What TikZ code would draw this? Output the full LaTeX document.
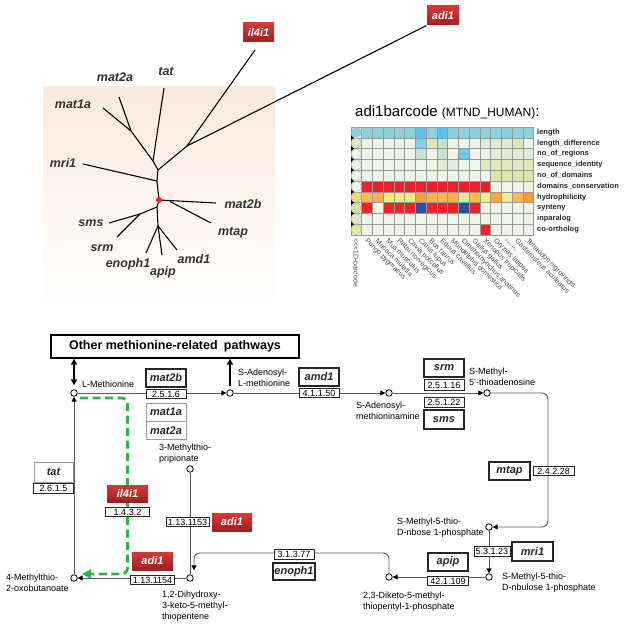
\documentclass[tikz,border=0pt]{standalone}
\usepackage{fontspec}
\setmainfont{Liberation Sans}
\usetikzlibrary{arrows.meta,backgrounds,positioning}

\definecolor{peachtop}{HTML}{FCEADC}
\definecolor{peachmid}{HTML}{F8D3B4}
\definecolor{dotred}{HTML}{E8262B}
\definecolor{leafgray}{HTML}{333333}
\definecolor{redtop}{HTML}{D33A37}
\definecolor{redbot}{HTML}{A21E23}
\definecolor{pathgreen}{HTML}{2DB34A}
\definecolor{linegray}{HTML}{5A5A5A}
% barcode colours
\definecolor{bp}{HTML}{EEF4E8}
\definecolor{bcb}{HTML}{8FD0DF}
\definecolor{bcB}{HTML}{5CC3EC}
\definecolor{lbl}{HTML}{84CEE9}
\definecolor{tl}{HTML}{C2E2D4}
\definecolor{yg}{HTML}{DCE8B6}
\definecolor{gp}{HTML}{E1ECD8}
\definecolor{bl}{HTML}{6BC7EA}
\definecolor{ygl}{HTML}{DFE9C0}
\definecolor{ygd}{HTML}{DCE6A8}
\definecolor{rd}{HTML}{E8232A}
\definecolor{db}{HTML}{2F4EA1}
\definecolor{hoa}{HTML}{FBBA50}
\definecolor{hob}{HTML}{F9B249}
\definecolor{hya}{HTML}{F7EC7F}
\definecolor{hyb}{HTML}{F6EA84}
\definecolor{hoc}{HTML}{F8A03E}
\definecolor{hod}{HTML}{FBB44A}
\definecolor{hoe}{HTML}{FBB94D}
\definecolor{hof}{HTML}{F9AE48}
\definecolor{hyc}{HTML}{E4E79E}
\definecolor{hog}{HTML}{FDBB4C}
\definecolor{hyd}{HTML}{F2EC8D}
\definecolor{hoh}{HTML}{F7A343}
\definecolor{hye}{HTML}{ECEB9D}
\definecolor{hoi}{HTML}{FCB94F}
\definecolor{hoj}{HTML}{F69A3A}
\definecolor{cb}{HTML}{DDE9BD}
\definecolor{cg}{HTML}{F2DD6C}
\definecolor{ch}{HTML}{D7E39C}
\definecolor{ci}{HTML}{DDEBD2}
\definecolor{cj}{HTML}{E5E89A}

\newcommand{\genefont}{\fontsize{11}{12}\selectfont\bfseries\itshape}
\newcommand{\treefont}{\fontsize{12.5}{13}\selectfont\bfseries\itshape}
\newcommand{\ecfont}{\fontsize{9}{10}\selectfont}
\newcommand{\metfont}{\fontsize{9}{11}\selectfont}
\newcommand{\pwfont}{\fontsize{12.5}{14}\selectfont\bfseries}
\newcommand{\rowfont}{\fontsize{7.5}{8}\selectfont\bfseries}
\newcommand{\specfont}{\fontsize{7}{8}\selectfont}

\tikzset{
  branch/.style={line width=1.1pt,black},
  leaf/.style={font=\treefont,text=leafgray,inner sep=0pt},
  gene/.style={draw=black!85,line width=1.2pt,fill=white,font=\genefont,text=black!85,
    inner sep=0pt,minimum width=40pt,minimum height=18pt},
  altgene/.style={gene,draw=black!40,line width=0.6pt},
  redgene/.style={gene,draw=none,top color=redtop,bottom color=redbot,text=white},
  ec/.style={draw=black!85,line width=0.9pt,fill=white,font=\ecfont,inner sep=0pt,
    minimum width=40pt,minimum height=9.5pt,text height=6.4pt,text depth=0pt},
  met/.style={circle,draw,fill=white,line width=0.8pt,inner sep=0pt,minimum size=6.5pt},
  metlabel/.style={font=\metfont,align=left,inner sep=0pt,anchor=north west},
  rxn/.style={draw=linegray,line width=0.9pt,-{Triangle[length=5pt,width=5pt,color=black]}},
  plainrxn/.style={draw=linegray,line width=0.9pt},
  bigarrow/.style={line width=1.6pt,black},
  greenpath/.style={pathgreen,line width=2.8pt,dash pattern=on 8pt off 4.5pt,
    -{Triangle[length=9pt,width=9pt]}},
  gridline/.style={draw=black!40,line width=0.35pt},
  rowlabel/.style={font=\rowfont,text=black!85,anchor=west,inner sep=0pt},
  species/.style={font=\specfont,text=black!70,anchor=west,inner sep=0pt,rotate=-45}
}

\begin{document}
\begin{tikzpicture}[x=1pt,y=-1pt]
\useasboundingbox (0,0) rectangle (629,628);

% gene tree
\shade[top color=peachtop,middle color=peachmid,bottom color=white] (43,87) rectangle (275,307);
\coordinate (root) at (159,200);
\coordinate (j1) at (157,181);
\coordinate (j2) at (158,170);
\coordinate (j3) at (153,161);
\coordinate (j4) at (131,131);
\coordinate (j5) at (187,146);
\coordinate (j6) at (157,207);
\coordinate (j7) at (140,214);
\coordinate (j8) at (158,226);
\coordinate (j9) at (170,201.5);
\coordinate (e-tat) at (164,88);
\coordinate (e-mat1a) at (103,108);
\coordinate (e-mat2a) at (119,97);
\coordinate (e-mri1) at (83,164);
\coordinate (e-il4i1) at (255,50);
\coordinate (e-mat2b) at (216,203);
\coordinate (e-mtap) at (211,223);
\coordinate (e-sms) at (109,223);
\coordinate (e-srm) at (117,237);
\coordinate (e-enoph1) at (146,253);
\coordinate (e-apip) at (162,255);
\coordinate (e-amd1) at (177,250);

\node[redgene,minimum width=31pt,minimum height=19pt] (t-il4i1) at (258.5,32.5) {il4i1};
\node[redgene,minimum width=32pt,minimum height=19pt] (t-adi1) at (443,15.5) {adi1};

\draw[branch] (root) -- (j1) -- (j2) -- (j3) -- (e-tat);
\draw[branch] (j3) -- (j4) -- (e-mat1a);
\draw[branch] (j4) -- (e-mat2a);
\draw[branch] (j1) -- (e-mri1);
\draw[branch] (j2) -- (j5) -- (e-il4i1);
\draw[branch] (j5) -- (t-adi1.south west);
\draw[branch] (root) -- (e-mat2b);
\draw[branch] (j9) -- (e-mtap);
\draw[branch] (root) -- (j6) -- (j8) -- (e-apip);
\draw[branch] (j6) -- (j7) -- (e-sms);
\draw[branch] (j7) -- (e-srm);
\draw[branch] (j8) -- (e-enoph1);
\draw[branch] (j8) -- (e-amd1);
\fill[dotred] (root) circle (3);

\node[leaf] (l-mat2a) at (115,77) {mat2a};
\node[leaf] (l-tat) at (166,71) {tat};
\node[leaf] (l-mat1a) at (73,104) {mat1a};
\node[leaf] (l-mri1) at (63,163) {mri1};
\node[leaf] (l-mat2b) at (243,204) {mat2b};
\node[leaf] (l-mtap) at (233,233) {mtap};
\node[leaf] (l-sms) at (91,223) {sms};
\node[leaf] (l-srm) at (102,248) {srm};
\node[leaf] (l-enoph1) at (128,264) {enoph1};
\node[leaf] (l-apip) at (163,272) {apip};
\node[leaf] (l-amd1) at (194,259) {amd1};

% barcode
\node[anchor=base west,inner sep=0pt] (bc-title) at (355,117)
  {\fontsize{15}{15}\selectfont adi1barcode {\fontsize{12}{12}\selectfont(MTND\_HUMAN)}:};
\foreach \rowcols [count=\r] in {
  {bcb,bcb,bcb,bcb,bcb,bcB,bcb,bcB,bcb,bcb,bcb,bcb,bcb,bcb,bcb,bcb},
  {bp,bp,bp,bp,bp,lbl,yg,tl,bp,bp,bp,gp,gp,gp,yg,bp},
  {bp,bp,bp,bp,bp,tl,bp,tl,bp,bl,bp,bp,gp,gp,gp,gp},
  {bp,bp,bp,bp,bp,bp,bp,gp,gp,bp,bp,ygl,ygl,ygl,ygl,ygl},
  {bp,bp,bp,bp,bp,bp,bp,bp,bp,bp,bp,bp,ygd,ygd,ygd,ygd},
  {rd,rd,rd,rd,rd,rd,rd,rd,rd,rd,rd,rd,bp,bp,bp,bp},
  {hoa,hob,hya,hyb,hyb,hoc,hod,hoe,hof,hyc,hog,hyd,hoh,hye,hoi,hoj},
  {rd,bp,rd,rd,rd,db,rd,rd,rd,db,rd,bp,bp,bp,bp,bp},
  {bp,bp,bp,bp,bp,bp,bp,bp,bp,bp,bp,bp,bp,bp,bp,bp},
  {bp,bp,bp,bp,bp,bp,bp,bp,bp,bp,bp,rd,bp,bp,bp,bp}} {
  \foreach \c [count=\i] in \rowcols {
    \fill[\c] ({361.5+(\i-1)*10.75},{127+(\r-1)*10.8}) rectangle ++(10.75,10.8);
  }
}
\fill[bp] (351,127) rectangle (361.5,235);
\foreach \i in {0,...,16}
  \draw[gridline] ({361.5+\i*10.75},127) -- ++(0,108);
\foreach \r in {0,...,10}
  \draw[gridline] (351,{127+\r*10.8}) -- (533.5,{127+\r*10.8});
\draw[gridline] (351,127) -- (351,235);
\foreach \c [count=\r] in {bcb,cb,bp,bp,bp,bp,cg,ch,ci,cj}
  \filldraw[fill=\c,draw=black!30,line width=0.3pt] (356.25,{127+(\r-0.5)*10.8}) circle (5);
\foreach \r in {1,...,9}
  \fill (351,{127+\r*10.8-2.5}) -- ++(3,2.5) -- ++(-3,2.5) -- cycle;
\foreach \lab [count=\r] in {length,length\_difference,no\_of\_regions,sequence\_identity,
    no\_of\_domains,domains\_conservation,hydrophilicity,synteny,inparalog,co-ortholog}
  \node[rowlabel] at (537,{127+(\r-0.5)*10.8}) {\lab};
\foreach \sp [count=\i] in {Pongo pygmaeus,Macaca mulatta,Mus musculus,Rattu norvegicus,
    Cavia porcellus,Canis lupus,Bos taurus,Equus cavallus,Mondelphis domestica,
    Ornithorhynchus anatinus,Gallus gallus,Xenopus tropicalis,Oryzias latipes,
    {\fontsize{3}{3}\selectfont Danio rerio},Gasterosteus aculeatus,Tetraodon nigroviridis}
  \node[species] at ({361.5+(\i-0.5)*10.75-1},240) {\sp};
\node[species,rotate=-45] at (356,238) {<\kern0pt<\kern0pt<1D-barcode};

% methionine pathway
\node[draw,line width=1.3pt,minimum width=248pt,minimum height=23pt,inner sep=0pt,font=\pwfont]
  (pw) at (175,346.5) {Other methionine-related\enspace pathways};

\node[met] (met) at (74,393) {};
\node[met] (sam) at (230,393) {};
\node[met] (samine) at (389,393) {};
\node[met] (mta) at (487,393) {};
\node[met] (mtr) at (489,527) {};
\node[met] (mtru) at (489,577) {};
\node[met] (dk) at (389,577) {};
\node[met] (dhk) at (190,578) {};
\node[met] (mtp) at (190,469) {};
\node[met] (mtob) at (74,578) {};

\node[metlabel] at (82,381) {L-Methionine};
\node[metlabel] at (238,369) {S-Adenosyl-\\L-methionine};
\node[metlabel] at (356,402) {S-Adenosyl-\\methioninamine};
\node[metlabel] at (469,368) {S-Methyl-\\5'-thioadenosine};
\node[metlabel] at (159,444) {3-Methylthio-\\pripionate};
\node[metlabel] at (6,574) {4-Methylthio-\\2-oxobutanoate};
\node[metlabel] at (162,591) {1,2-Dihydroxy-\\3-keto-5-methyl-\\thiopentene};
\node[metlabel] at (363,592) {2,3-Diketo-5-methyl-\\thiopentyl-1-phosphate};
\node[metlabel] at (502,573) {S-Methyl-5-thio-\\D-nbulose 1-phosphate};
\node[metlabel] at (397,518) {S-Methyl-5-thio-\\D-nbose 1-phosphate};

\node[gene] (mat2b) at (166,378) {mat2b};
\node[ec,below=1pt of mat2b] (ec-mat2b) {2.5.1.6};
\node[altgene] (mat1a) at (166,412) {mat1a};
\node[altgene,below=0pt of mat1a] (mat2a) {mat2a};
\node[gene] (amd1) at (319,377) {amd1};
\node[ec,below=1pt of amd1] (ec-amd1) {4.1.1.50};
\node[gene] (srm) at (444,368) {srm};
\node[ec,minimum height=10.5pt,below=1.5pt of srm] (ec-srm) {2.5.1.16};
\node[gene,minimum height=19pt] (sms) at (444,419.5) {sms};
\node[ec,minimum height=10pt,above=2pt of sms] (ec-sms) {2.5.1.22};
\node[gene,minimum width=41pt] (mtap) at (509.5,471) {mtap};
\node[ec,minimum width=41pt,right=2pt of mtap] (ec-mtap) {2.4.2.28};
\node[gene,minimum width=41pt,minimum height=19pt] (mri1) at (532.5,551.5) {mri1};
\node[ec,minimum width=36pt,left=1pt of mri1] (ec-mri1) {5.3.1.23};
\node[gene] (apip) at (448,562) {apip};
\node[ec,minimum width=41pt,below=4pt of apip] (ec-apip) {42.1.109};
\node[gene,minimum width=42pt,minimum height=17pt] (enoph1) at (294,571.5) {enoph1};
\node[ec,above=3pt of enoph1] (ec-enoph1) {3.1.3.77};
\node[redgene] (adi1a) at (232,522) {adi1};
\node[ec,minimum width=43pt,left=2pt of adi1a] (ec-adi1a) {1.13.1153};
\node[redgene,minimum width=41pt] (adi1b) at (152.5,561) {adi1};
\node[ec,minimum width=44pt,below=4pt of adi1b] (ec-adi1b) {1.13.1154};
\node[redgene,minimum width=41pt,minimum height=17pt] (il4i1) at (127.5,493.5) {il4i1};
\node[ec,minimum width=44pt,below=4pt of il4i1] (ec-il4i1) {1.4.3.2};
\node[altgene,minimum width=39pt,minimum height=20pt] (tat) at (53.5,472) {tat};
\node[ec,below=1pt of tat] (ec-tat) {2.6.1.5};

\begin{scope}[on background layer]
  \draw[rxn] (met) -- (sam);
  \draw[rxn] (sam) -- (samine);
  \draw[rxn] (samine) -- (mta);
  \draw[rxn,rounded corners=6pt] (mta) -- ++(61,0) |- (mtr);
  \draw[rxn] (mtr) -- (mtru);
  \draw[rxn] (mtru) -- (dk);
  \draw[rxn,rounded corners=6pt,shorten >=4pt] (dk) -- ++(0,-24) -| ([xshift=4pt]dhk.north);
  \draw[plainrxn] (mtp) -- (dhk);
  \draw[rxn] (dhk) -- (mtob);
  \draw[rxn] (mtob) -- (met);
  \draw[greenpath,rounded corners=6pt] ([xshift=6pt,yshift=-5pt]met.center) -| (ec-il4i1)
    |- ([xshift=8pt,yshift=4pt]mtob.center);
\end{scope}
\draw[bigarrow,{Triangle[length=6pt,width=6pt]}-{Triangle[length=6pt,width=6pt]}]
  (met |- pw.south) -- ([yshift=4pt]met.north);
\draw[bigarrow,-{Triangle[length=6pt,width=6pt]}] ([yshift=3pt]sam.north) -- (sam |- pw.south);
\end{tikzpicture}
\end{document}
